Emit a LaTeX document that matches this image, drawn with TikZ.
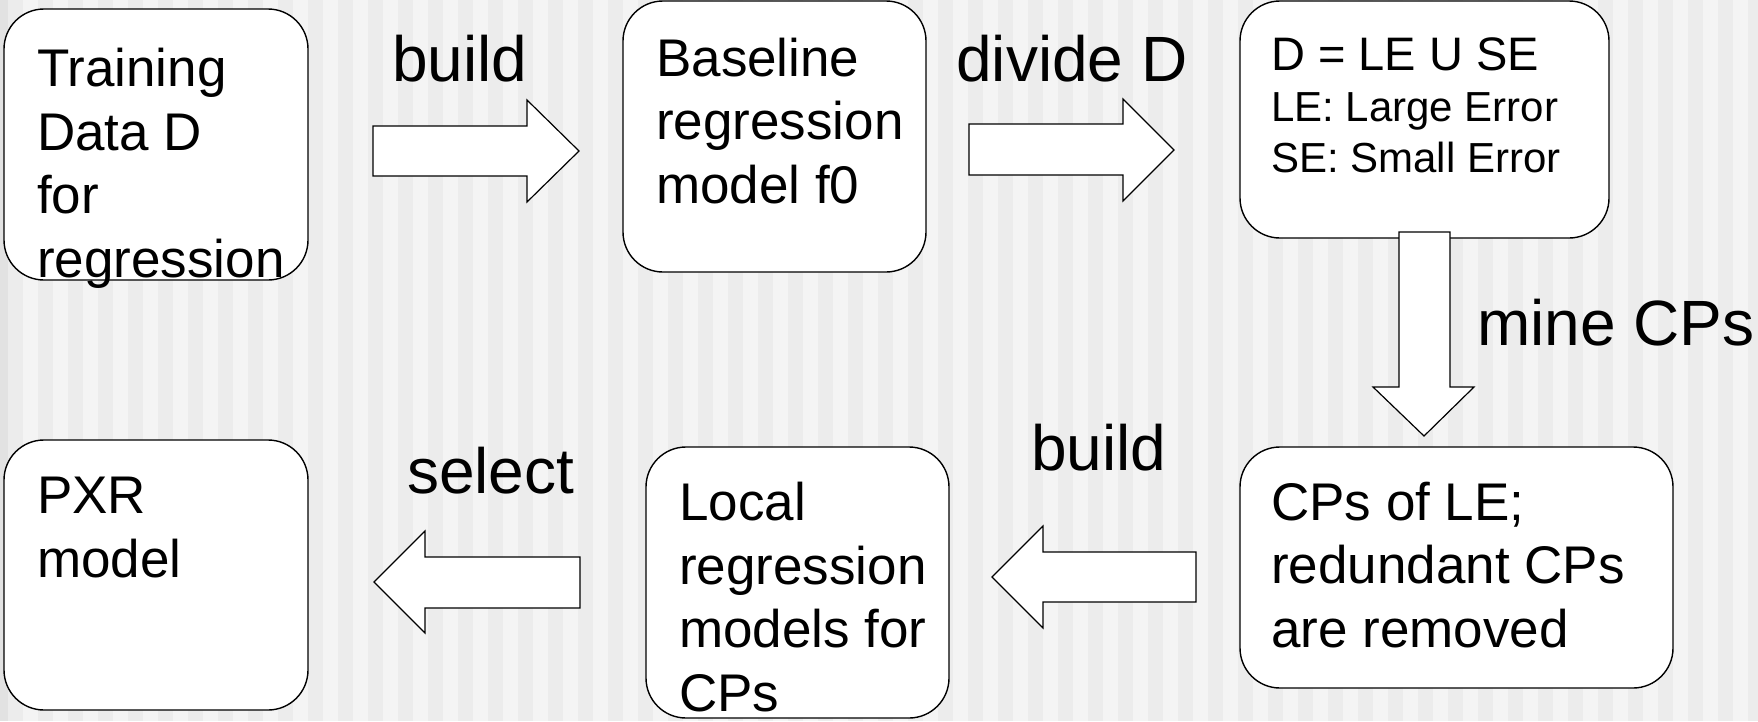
\documentclass[tikz,border=0pt]{standalone}
\usepackage{fontspec}
\setmainfont{Liberation Sans}
\begin{document}
\begin{tikzpicture}[x=1pt,y=-1pt,
  box/.style={draw=black,line width=1.4pt,fill=white,rounded corners=40pt},
  blockarrow/.style={draw=black,line width=1.2pt,fill=white},
  boxtext/.style={anchor=base west,inner sep=0pt,align=left,font=\fontsize{53}{63.5}\selectfont},
  smalltext/.style={anchor=base west,inner sep=0pt,align=left,font=\fontsize{42}{51}\selectfont},
  lbl/.style={anchor=base west,inner sep=0pt,font=\fontsize{64}{70}\selectfont}]
\useasboundingbox (0,0) rectangle (1758,721);
% background stripes
\fill[color={rgb,255:red,244;green,244;blue,244}] (0,0) rectangle (1758,721);
\foreach \i in {0,...,58} {
  \fill[color={rgb,255:red,236;green,236;blue,236}] (8+30*\i,0) rectangle (23+30*\i,721);
}
\fill[color={rgb,255:red,226;green,226;blue,226}] (0,0) rectangle (8,721);
% boxes
\draw[box] (4,9) rectangle (308,280);
\draw[box] (623,1) rectangle (926,272);
\draw[box] (1240,1) rectangle (1609,238);
\draw[box] (1240,447) rectangle (1673,688);
\draw[box] (646,447) rectangle (949,718);
\draw[box] (4,440) rectangle (308,710);
% box texts (anchored at the baseline of the last line)
\node[boxtext] (t1) at (37,277) {Training\\Data D\\for\\regression};
\node[boxtext] (t2) at (656,203) {Baseline\\regression\\model f0};
\node[anchor=base west,inner sep=0pt,font=\fontsize{47}{51}\selectfont] (t3a) at (1271,70) {D = LE U SE};
\node[smalltext] (t3b) at (1271,172) {LE: Large Error\\SE: Small Error};
\node[boxtext] (t4) at (1271,647) {CPs of LE;\\redundant CPs\\are removed};
\node[boxtext] (t5) at (679,711) {Local\\regression\\models for\\CPs};
\node[boxtext] (t6) at (37,577) {PXR\\model};
% block arrows
\draw[blockarrow] (373,126) -- (527,126) -- (527,100) -- (579,151) -- (527,202) -- (527,176) -- (373,176) -- cycle;
\draw[blockarrow] (969,124) -- (1123,124) -- (1123,99) -- (1174,150) -- (1123,201) -- (1123,175) -- (969,175) -- cycle;
\draw[blockarrow] (1399,232) -- (1450,232) -- (1450,387) -- (1474,387) -- (1424,436) -- (1373,387) -- (1399,387) -- cycle;
\draw[blockarrow] (1196,552) -- (1043,552) -- (1043,526) -- (992,577) -- (1043,628) -- (1043,602) -- (1196,602) -- cycle;
\draw[blockarrow] (580,557) -- (425,557) -- (425,531) -- (374,582) -- (425,633) -- (425,608) -- (580,608) -- cycle;
% labels
\node[lbl] (l1) at (392,81) {build};
\node[lbl] (l2) at (956,81) {divide D};
\node[lbl] (l3) at (1477,345) {mine CPs};
\node[lbl] (l4) at (1031,470) {build};
\node[lbl] (l5) at (407,493) {select};
\end{tikzpicture}
\end{document}
